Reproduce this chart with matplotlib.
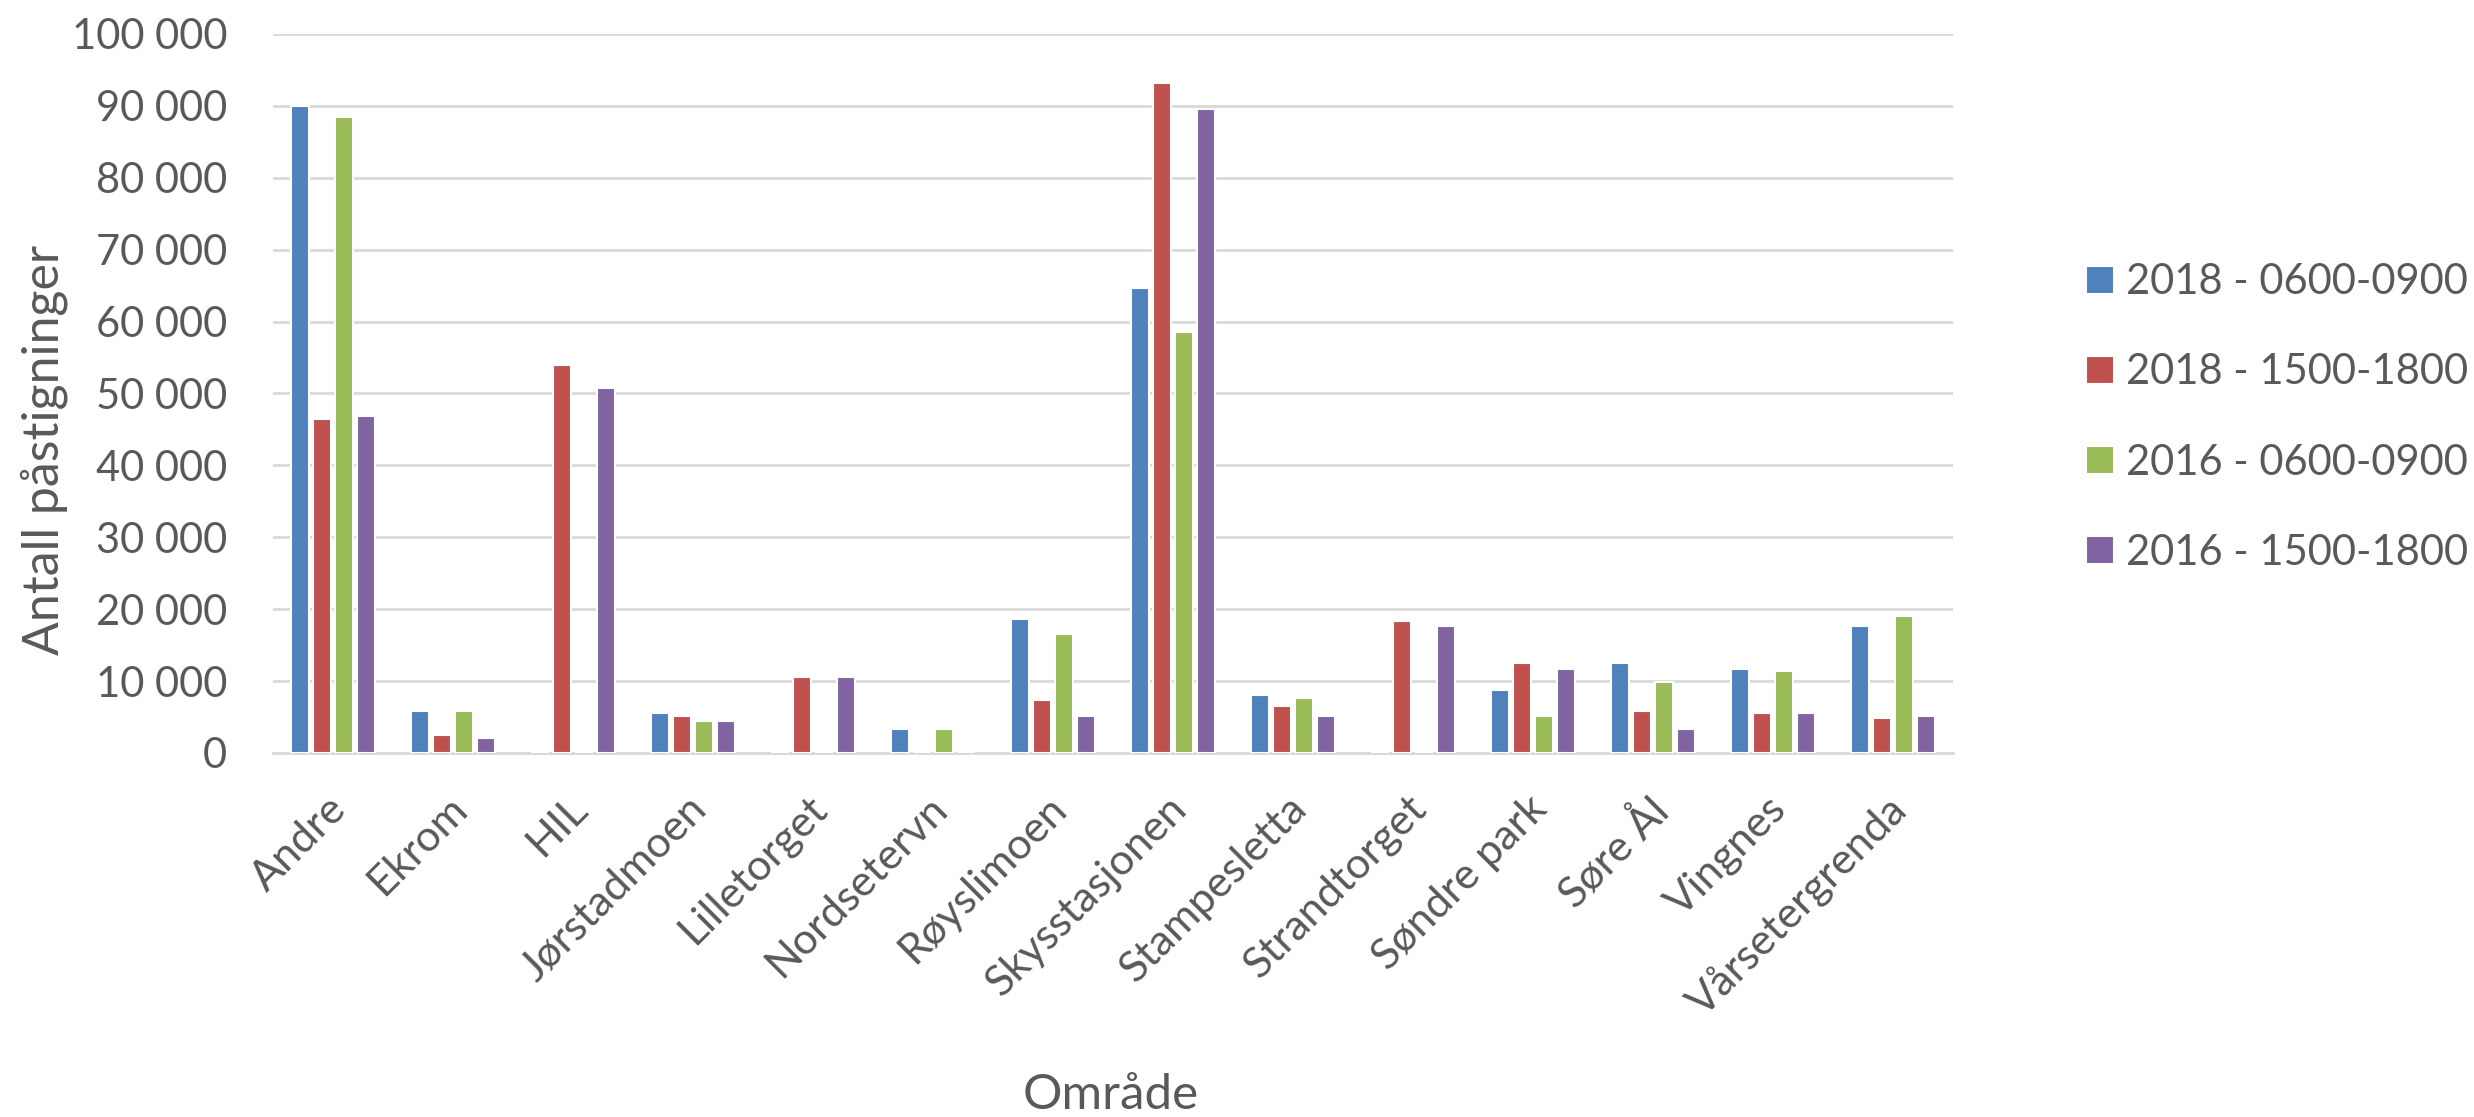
import numpy as np
import matplotlib.pyplot as plt
from matplotlib.ticker import FuncFormatter
from matplotlib.transforms import ScaledTranslation

omrader = ["Andre", "Ekrom", "HIL", "Jørstadmoen", "Lilletorget", "Nordsetervn",
           "Røyslimoen", "Skysstasjonen", "Stampesletta", "Strandtorget",
           "Søndre park", "Søre Ål", "Vingnes", "Vårsetergrenda"]

serier = ["2018 - 0600-0900", "2018 - 1500-1800", "2016 - 0600-0900", "2016 - 1500-1800"]

v2018_morgen = [90000, 5900, 0, 5500, 0, 3350, 18700, 64700, 8050, 0, 8750, 12450, 11700, 17600]
v2018_kveld = [46400, 2550, 54000, 5150, 10550, 0, 7300, 93200, 6600, 18350, 12450, 5900, 5500, 4800]
v2016_morgen = [88400, 5900, 0, 4450, 0, 3350, 16500, 58500, 7700, 0, 5150, 9850, 11350, 19050]
v2016_kveld = [46850, 2150, 50800, 4450, 10550, 0, 5150, 89600, 5150, 17600, 11700, 3350, 5500, 5150]

farger = ["#4F81BD", "#C0504D", "#9BBB59", "#8064A2"]
tekst = "#595959"

plt.rcParams["font.family"] = ["Lato", "DejaVu Sans"]

fig = plt.figure(figsize=(24.74, 11.17), dpi=100)
ax = fig.add_axes([0.1103, 0.3259, 0.679, 0.6437])

x = np.arange(len(omrader))
steg = 0.183
for i, (navn, verdier) in enumerate(zip(serier, [v2018_morgen, v2018_kveld, v2016_morgen, v2016_kveld])):
    ax.bar(x + (i - 1.5) * steg, verdier, width=0.15, color=farger[i], edgecolor="white",
           linewidth=1.5, label=navn, zorder=3)

ax.set_xlim(-0.5, len(omrader) - 0.5)
ax.set_ylim(0, 100000)
ax.set_yticks(np.arange(0, 100001, 10000))
ax.yaxis.set_major_formatter(FuncFormatter(lambda v, p: f"{int(v):,}".replace(",", " ")))
ax.grid(axis="y", color="#D9D9D9", linewidth=2, zorder=0)
for s in ["top", "right", "left"]:
    ax.spines[s].set_visible(False)
ax.spines["bottom"].set_color("#D9D9D9")
ax.spines["bottom"].set_linewidth(2)
ax.tick_params(axis="both", length=0, colors=tekst)
ax.tick_params(axis="y", pad=33, labelsize=30)
ax.set_xticks(x)
ax.set_xticklabels(omrader, rotation=45, ha="right", rotation_mode="anchor", fontsize=31)
ax.tick_params(axis="x", pad=26)

# de skrå kategorinavnene står litt til venstre for midten av gruppen
forskyv = ScaledTranslation(-0.06, 0, fig.dpi_scale_trans)
for lbl in ax.get_xticklabels():
    lbl.set_transform(lbl.get_transform() + forskyv)

fig.text(0.0178, 0.597, "Antall påstigninger", rotation=90, fontsize=36, color=tekst,
         ha="center", va="center")
fig.text(0.449, 0.007, "Område", fontsize=35.5, color=tekst, ha="center", va="baseline")

fig.legend(loc="center left", bbox_to_anchor=(0.8432, 0.6262), frameon=False, fontsize=30,
           borderpad=0, borderaxespad=0, handlelength=0.67, handleheight=0.67,
           handletextpad=0.29, labelspacing=1.25, labelcolor=tekst)

fig.savefig("out.png", dpi=100, facecolor="white")
